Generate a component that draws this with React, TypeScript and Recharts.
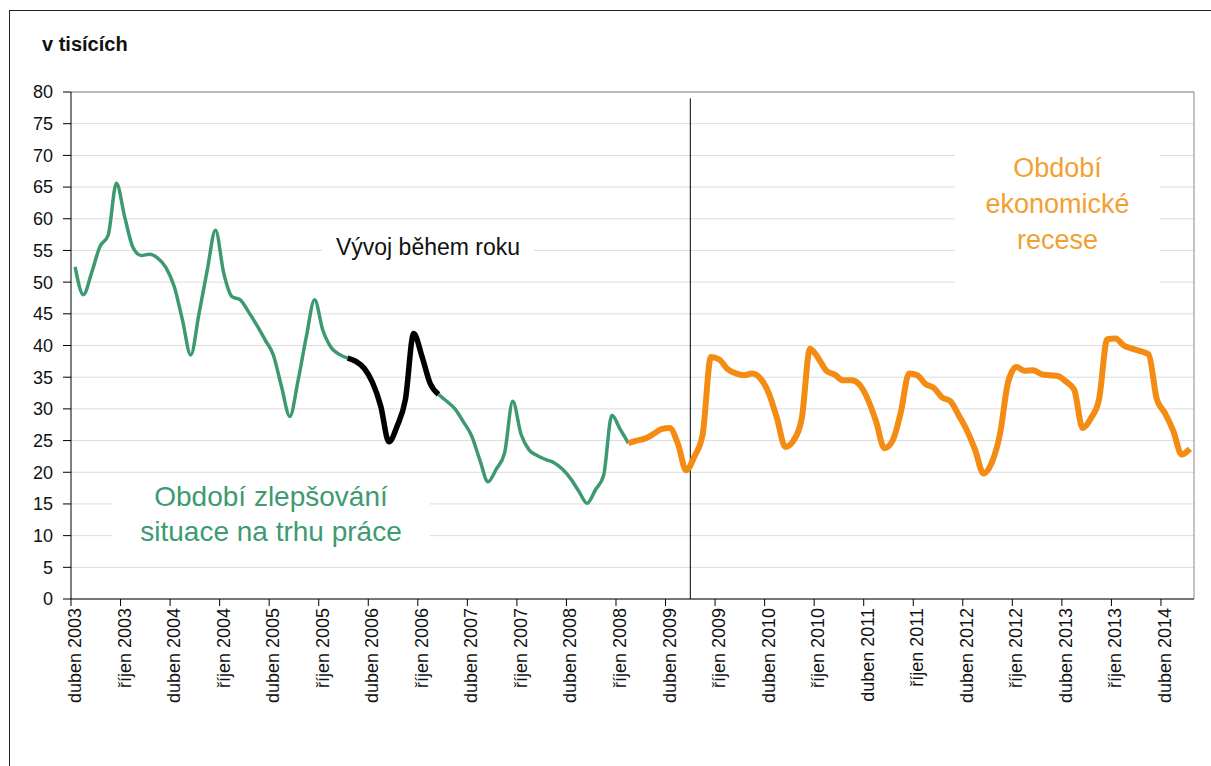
import React from "react";
import { LineChart, Line, XAxis, YAxis, CartesianGrid, ReferenceLine } from "recharts";

const FONT = "'Liberation Sans', Arial, sans-serif";

// Monthly values (thousands), April 2003 .. July 2014
const values: number[] = [
  // 2003 Apr..Dec
  52.4, 48.0, 51.5, 55.6, 57.4, 65.6, 60.3, 55.5, 54.2,
  // 2004
  54.4, 53.8, 52.3, 49.3, 44.0, 38.5, 45.0, 51.9, 58.2, 51.4, 47.7, 47.2,
  // 2005
  45.3, 43.2, 40.9, 38.5, 33.5, 28.8, 34.5, 41.4, 47.2, 42.4, 39.7, 38.6,
  // 2006
  38.0, 37.5, 36.4, 34.2, 30.5, 24.8, 27.3, 31.5, 41.9, 38.3, 34.0, 32.3,
  // 2007
  31.2, 30.0, 28.0, 25.8, 22.0, 18.5, 20.5, 23.0, 31.2, 26.0, 23.5, 22.6,
  // 2008
  22.0, 21.5, 20.5, 19.0, 17.0, 15.1, 17.2, 19.5, 29.0, 26.8, 24.6, 25.0,
  // 2009
  25.3, 26.0, 26.8, 27.0, 24.5, 20.3, 22.5, 26.0, 38.2, 37.8, 36.3, 35.6,
  // 2010
  35.3, 35.6, 34.8, 32.5, 28.5, 24.0, 25.0, 28.5, 39.5, 38.0, 36.0, 35.4,
  // 2011
  34.5, 34.5, 33.8, 31.5, 28.0, 23.8, 25.0, 29.5, 35.6, 35.3, 33.9, 33.3,
  // 2012
  31.8, 31.2, 29.0, 26.6, 23.5, 19.8, 21.5, 26.0, 34.3, 36.6, 36.0, 36.1,
  // 2013
  35.5, 35.3, 35.2, 34.3, 33.0, 27.0, 28.5, 31.5, 41.0, 41.1, 40.0, 39.5,
  // 2014 Jan..Jul
  39.1, 38.6, 31.5, 29.3, 26.5, 22.8, 23.7,
];

const tickLabels: string[] = [
  "duben 2003", "říjen 2003", "duben 2004", "říjen 2004", "duben 2005", "říjen 2005",
  "duben 2006", "říjen 2006", "duben 2007", "říjen 2007", "duben 2008", "říjen 2008",
  "duben 2009", "říjen 2009", "duben 2010", "říjen 2010", "duben 2011", "říjen 2011",
  "duben 2012", "říjen 2012", "duben 2013", "říjen 2013", "duben 2014",
];

const yTicks: number[] = [0, 5, 10, 15, 20, 25, 30, 35, 40, 45, 50, 55, 60, 65, 70, 75, 80];

// period boundaries (month indices from April 2003)
const blackStart = 33; // leden 2006
const blackEnd = 44; // prosinec 2006
const orangeStart = 67; // listopad 2008
const recessionLine = 75; // start of červenec 2009

const months: string[] = values.map((_, i) => {
  const m = 3 + i; // April 2003 = month index 3 of 2003
  const y = 2003 + Math.floor(m / 12);
  const mm = (m % 12) + 1;
  return `${y}-${String(mm).padStart(2, "0")}`;
});

const data = values.map((v, i) => ({
  month: months[i],
  t: i + 0.5,
  green: i <= blackStart || (i >= blackEnd && i <= orangeStart) ? v : null,
  black: i >= blackStart && i <= blackEnd ? v : null,
  orange: i >= orangeStart ? v : null,
}));

const xTicks = tickLabels.map((_, k) => k * 6);

const XTick = (props: any) => {
  const { x, y, payload } = props;
  const label = tickLabels[Math.round(payload.value / 6)];
  const cx = x + 4;
  return (
    <text
      x={cx}
      y={y}
      transform={`rotate(-90, ${cx}, ${y})`}
      textAnchor="end"
      dominantBaseline="central"
      fontSize={18}
      fontFamily={FONT}
      fill="#111"
    >
      {label}
    </text>
  );
};

export default function App() {
  return (
    <div
      style={{
        position: "absolute",
        left: 0,
        top: 0,
        width: 1211,
        height: 766,
        background: "#fff",
        overflow: "hidden",
        fontFamily: FONT,
      }}
    >
      <div
        style={{
          position: "absolute",
          left: 9,
          top: 10,
          width: 1202,
          height: 756,
          borderLeft: "1px solid #222",
          borderTop: "1px solid #222",
          boxSizing: "border-box",
        }}
      />
      <div style={{ position: "absolute", left: 0, top: 0 }}>
        <LineChart
          width={1211}
          height={766}
          data={data}
          margin={{ top: 92, right: 17, bottom: 47, left: 21 }}
        >
          <CartesianGrid vertical={false} stroke="#dcdcdc" strokeWidth={1} />
          <XAxis
            dataKey="t"
            type="number"
            domain={[0, values.length]}
            ticks={xTicks}
            interval={0}
            height={120}
            axisLine={{ stroke: "#000", strokeWidth: 1 }}
            tickLine={{ stroke: "#000", strokeWidth: 1 }}
            tickSize={7}
            tickMargin={2}
            tick={<XTick />}
          />
          <YAxis
            type="number"
            domain={[0, 80]}
            ticks={yTicks}
            interval={0}
            width={50}
            axisLine={{ stroke: "#000", strokeWidth: 1 }}
            tickLine={{ stroke: "#000", strokeWidth: 1 }}
            tickSize={8}
            tickMargin={10}
            tick={{ fontSize: 18, fill: "#111", fontFamily: FONT }}
          />
          <ReferenceLine y={80} stroke="#8a8a8a" strokeWidth={1} />
          <ReferenceLine x={values.length} stroke="#8a8a8a" strokeWidth={1} />
          <ReferenceLine
            segment={[
              { x: recessionLine, y: 79 },
              { x: recessionLine, y: 0 },
            ]}
            stroke="#000"
            strokeWidth={1}
          />
          <Line
            type="monotone"
            dataKey="green"
            stroke="#3d9a70"
            strokeWidth={3.5}
            dot={false}
            activeDot={false}
            isAnimationActive={false}
            connectNulls={false}
          />
          <Line
            type="monotone"
            dataKey="black"
            stroke="#000"
            strokeWidth={5.5}
            dot={false}
            activeDot={false}
            isAnimationActive={false}
            connectNulls={false}
          />
          <Line
            type="monotone"
            dataKey="orange"
            stroke="#f48c14"
            strokeWidth={6}
            dot={false}
            activeDot={false}
            isAnimationActive={false}
            connectNulls={false}
          />
        </LineChart>
      </div>

      <div
        style={{
          position: "absolute",
          left: 42,
          top: 32,
          fontSize: 20,
          fontWeight: "bold",
          color: "#111",
          lineHeight: "24px",
          whiteSpace: "nowrap",
        }}
      >
        v tisících
      </div>

      <div
        style={{
          position: "absolute",
          left: 322,
          top: 225,
          width: 212,
          height: 48,
          background: "#fff",
          fontSize: 23,
          color: "#111",
          lineHeight: "40px",
          textAlign: "center",
          whiteSpace: "nowrap",
          paddingTop: 2,
          boxSizing: "border-box",
        }}
      >
        Vývoj během roku
      </div>

      <div
        style={{
          position: "absolute",
          left: 112,
          top: 476,
          width: 318,
          height: 84,
          background: "#fff",
          fontSize: 28,
          color: "#3e9a70",
          lineHeight: "35px",
          textAlign: "center",
          whiteSpace: "nowrap",
          paddingTop: 3,
          boxSizing: "border-box",
        }}
      >
        Období zlepšování
        <br />
        situace na trhu práce
      </div>

      <div
        style={{
          position: "absolute",
          left: 955,
          top: 140,
          width: 205,
          height: 155,
          background: "#fff",
          fontSize: 27,
          color: "#f3a032",
          lineHeight: "36px",
          textAlign: "center",
          whiteSpace: "nowrap",
          paddingTop: 10,
          boxSizing: "border-box",
        }}
      >
        Období
        <br />
        ekonomické
        <br />
        recese
      </div>
    </div>
  );
}
